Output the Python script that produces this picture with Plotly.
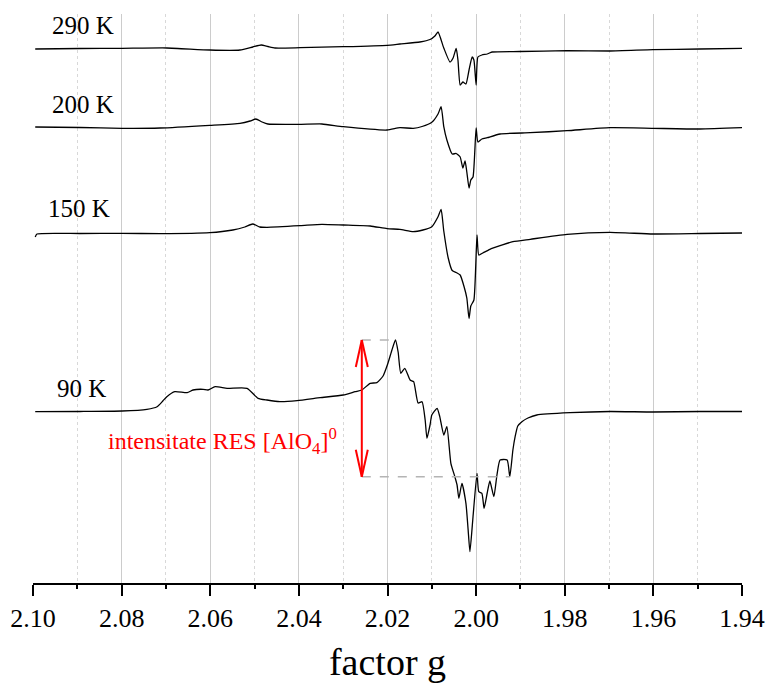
import plotly.graph_objects as go

# EPR spectra of the [AlO4]0 centre at four temperatures (stacked, arbitrary units)
g_290 = [2.0995, 2.0894, 2.0799, 2.0698, 2.0601, 2.0533, 2.0504, 2.0485, 2.0470, 2.0454,
         2.0397, 2.0300, 2.0201, 2.0172, 2.0127, 2.0104, 2.0093, 2.0086, 2.0073, 2.0059,
         2.0052, 2.0045, 2.0041, 2.0036, 2.0030, 2.0023, 2.0016, 2.0009, 2.0005, 2.0000,
         1.9996, 1.9987, 1.9975, 1.9964, 1.9901, 1.9795, 1.9698, 1.9601, 1.9495, 1.9400]
i_290 = [534, 534.5, 534.7, 535, 533, 533, 536, 538, 536.5, 535,
         535.3, 536.3, 537.7, 539, 541, 543.5, 547, 551, 535, 521,
         525, 534.5, 523, 498, 501, 499, 513, 526, 523, 498,
         526, 528, 529, 531, 531.5, 532.3, 532, 533.3, 534, 534.7]

g_200 = [2.0995, 2.0894, 2.0799, 2.0713, 2.0601, 2.0533, 2.0510, 2.0497, 2.0483, 2.0470,
         2.0397, 2.0348, 2.0300, 2.0201, 2.0172, 2.0142, 2.0122, 2.0100, 2.0086, 2.0079,
         2.0073, 2.0066, 2.0054, 2.0045, 2.0036, 2.0030, 2.0025, 2.0021, 2.0016, 2.0012,
         2.0007, 2.0000, 1.9996, 1.9987, 1.9975, 1.9946, 1.9878, 1.9795, 1.9698, 1.9601,
         1.9495, 1.9400]
i_200 = [456, 455.5, 454.7, 455, 457.7, 459.7, 462, 464, 461, 459,
         458.7, 459, 456.3, 453, 455.3, 454.7, 456.5, 460.7, 469, 476.3,
         456.3, 443, 429, 429.5, 426, 415, 422, 411, 395, 403,
         406, 455, 441, 444, 445.3, 449, 450.3, 452.3, 455.3, 454.7,
         454, 455.3]

g_150 = [2.0995, 2.0991, 2.0894, 2.0799, 2.0713, 2.0601, 2.0549, 2.0522, 2.0504, 2.0488,
         2.0472, 2.0397, 2.0348, 2.0300, 2.0239, 2.0201, 2.0172, 2.0142, 2.0120, 2.0100,
         2.0086, 2.0079, 2.0073, 2.0063, 2.0054, 2.0043, 2.0036, 2.0027, 2.0021, 2.0016,
         2.0012, 2.0005, 1.9998, 1.9994, 1.9985, 1.9969, 1.9946, 1.9917, 1.9878, 1.9795,
         1.9698, 1.9601, 1.9495, 1.9400]
i_150 = [346, 349, 349.5, 349.7, 349.3, 350.3, 353, 356, 359, 356,
         355.7, 357.3, 358.7, 358, 357, 354.3, 353.7, 351.3, 353, 356.3,
         366.3, 373.5, 352, 325, 312.5, 310, 308, 296, 285, 264.5,
         277, 283, 348, 328, 330, 333.7, 337.3, 341.3, 343.7, 348.7,
         350.7, 349, 349.5, 350]

g_90 = [2.0995, 2.0894, 2.0799, 2.0743, 2.0720, 2.0707, 2.0698, 2.0680, 2.0652, 2.0639,
        2.0616, 2.0605, 2.0589, 2.0562, 2.0517, 2.0492, 2.0472, 2.0443, 2.0404, 2.0352,
        2.0300, 2.0273, 2.0258, 2.0239, 2.0224, 2.0210, 2.0199, 2.0190, 2.0182, 2.0176,
        2.0170, 2.0161, 2.0149, 2.0141, 2.0131, 2.0122, 2.0115, 2.0111, 2.0104, 2.0100,
        2.0088, 2.0082, 2.0073, 2.0066, 2.0057, 2.0048, 2.0043, 2.0039, 2.0032, 2.0023,
        2.0018, 2.0014, 2.0007, 1.9998, 1.9994, 1.9987, 1.9982, 1.9975, 1.9969, 1.9960,
        1.9953, 1.9946, 1.9930, 1.9924, 1.9917, 1.9912, 1.9906, 1.9896, 1.9883, 1.9863,
        1.9788, 1.9698, 1.9601, 1.9495, 1.9400]
i_90 = [171.3, 171.5, 172, 173.7, 176.3, 182, 186.3, 191.3, 190.3, 193,
        193.7, 193, 196.3, 194.7, 194.7, 184.7, 183, 181.3, 182.3, 185.3,
        188, 191.3, 193, 199.7, 200.3, 207, 219.7, 233, 243, 231,
        209.7, 214.7, 203, 201.3, 180, 181.3, 163, 144.7, 158, 168,
        174.7, 166.3, 148, 156.3, 119.7, 106.3, 98, 84.7, 99.7, 79.7,
        53, 31.3, 66.3, 109.7, 91.3, 89.7, 74.7, 90, 102, 86.3,
        108, 123, 123, 106.3, 133, 146.3, 157, 161.5, 165, 168,
        170.3, 171.5, 171, 171.5, 171.5]

temp_labels = ["290 K", "200 K", "150 K", "90 K"]
label_g = [2.0962, 2.0962, 2.0971, 2.0950]
label_i = [557.5, 478.5, 375, 195]

g_ticks = [2.10, 2.08, 2.06, 2.04, 2.02, 2.00, 1.98, 1.96, 1.94]

# Intensity marker: measured from the 90 K maximum down to the trough near g = 1.9924
g_marker = 2.0258
g_trough = 1.9924

FONT = "Liberation Serif, Times New Roman, serif"
G_RANGE = [2.10, 1.94]
I_RANGE = [0, 569]
PLOT_W, PLOT_H = 709, 569

fig = go.Figure()
for gs, vals in [(g_290, i_290), (g_200, i_200), (g_150, i_150), (g_90, i_90)]:
    fig.add_trace(go.Scatter(x=gs, y=vals, mode="lines",
                             line=dict(color="black", width=1.3, shape="spline", smoothing=0.5),
                             showlegend=False, hoverinfo="skip"))

peak_i = max(i_90)
peak_g = g_90[i_90.index(peak_i)]
trough_i = i_90[g_90.index(g_trough)]

# grey dashed guides at the two levels
fig.add_shape(type="line", x0=g_marker, x1=peak_g, y0=peak_i, y1=peak_i,
              line=dict(color="#b4b4b4", width=1.5, dash="dash"))
fig.add_shape(type="line", x0=g_marker, x1=g_trough, y0=trough_i, y1=trough_i,
              line=dict(color="#b4b4b4", width=1.5, dash="dash"))

# red double-headed arrow with open heads
g_per_px = (G_RANGE[0] - G_RANGE[1]) / PLOT_W
i_per_px = (I_RANGE[1] - I_RANGE[0]) / PLOT_H
head_dx = 6 * g_per_px
head_dy = 27 * i_per_px
red = dict(color="#ff0000", width=2)
fig.add_shape(type="line", x0=g_marker, x1=g_marker, y0=peak_i, y1=trough_i, line=red)
for tip, sgn in [(peak_i, -1), (trough_i, 1)]:
    fig.add_shape(type="line", x0=g_marker + head_dx, y0=tip + sgn * head_dy,
                  x1=g_marker, y1=tip, line=red)
    fig.add_shape(type="line", x0=g_marker - head_dx, y0=tip + sgn * head_dy,
                  x1=g_marker, y1=tip, line=red)

fig.add_annotation(x=2.0836, y=142, xref="x", yref="y", xanchor="left", yanchor="middle",
                   text="intensitate RES [AlO<sub>4</sub>]<sup>0</sup>", showarrow=False,
                   font=dict(family=FONT, size=24, color="#ff0000"))

for txt, gx, iy in zip(temp_labels, label_g, label_i):
    fig.add_annotation(x=gx, y=iy, xref="x", yref="y", xanchor="left", yanchor="middle",
                       text=txt, showarrow=False,
                       font=dict(family=FONT, size=25, color="black"))

fig.update_xaxes(
    range=G_RANGE, tickvals=g_ticks, tickformat=".2f", automargin=False,
    showgrid=True, gridcolor="#cccccc", gridwidth=1,
    minor=dict(dtick=0.01, tick0=2.0, showgrid=True, gridcolor="#d8d8d8",
               griddash="dot", ticks="outside", ticklen=4, tickwidth=1.5,
               tickcolor="black"),
    ticks="outside", ticklen=11, tickwidth=1.5, tickcolor="black",
    showline=True, linecolor="black", linewidth=2, zeroline=False,
    tickfont=dict(family=FONT, size=26, color="black"),
    title=dict(text="factor g", font=dict(family=FONT, size=38, color="black"),
               standoff=20),
)
fig.update_yaxes(range=I_RANGE, visible=False, showgrid=False, zeroline=False,
                 automargin=False)

fig.update_layout(
    width=770, height=683,
    margin=dict(l=33, r=28, t=14, b=100, autoexpand=False),
    plot_bgcolor="white", paper_bgcolor="white",
)

fig.write_html("out.html")
